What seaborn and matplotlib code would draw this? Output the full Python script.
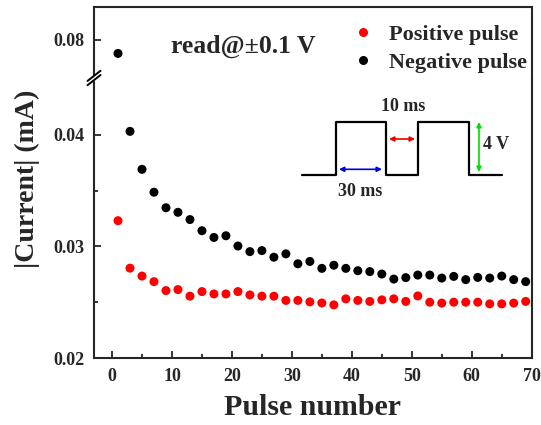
import numpy as np
import pandas as pd
import matplotlib
matplotlib.use('Agg')
import matplotlib.pyplot as plt
import seaborn as sns
from matplotlib.ticker import MultipleLocator, FormatStrFormatter

# pulse numbers (odd pulses 1..69)
pulse = list(range(1, 70, 2))

positive = [0.0323, 0.02805, 0.02734, 0.02684, 0.02604, 0.02613, 0.02554, 0.02595,
            0.02574, 0.02574, 0.02595, 0.02565, 0.02554, 0.02554, 0.02516, 0.02516,
            0.02503, 0.02493, 0.02476, 0.02530, 0.02516, 0.02507, 0.02521, 0.02530,
            0.02507, 0.02556, 0.02500, 0.02492, 0.02500, 0.02500, 0.02500, 0.02485,
            0.02485, 0.02492, 0.02507]

negative = [0.0788, 0.0403, 0.0369, 0.03485, 0.03346, 0.03305, 0.0324, 0.0314,
            0.0308, 0.03095, 0.03003, 0.02953, 0.02962, 0.02903, 0.02933, 0.02844,
            0.02865, 0.02803, 0.02831, 0.02803, 0.02782, 0.02774, 0.02752, 0.02707,
            0.02720, 0.02743, 0.02743, 0.02716, 0.02731, 0.02702, 0.02722, 0.02716,
            0.02734, 0.02702, 0.02684]

series = ['Positive pulse', 'Negative pulse']
colors = {'Positive pulse': '#ff0000', 'Negative pulse': '#000000'}

df = pd.DataFrame({
    'pulse': pulse + pulse,
    'current': positive + negative,
    'type': [series[0]] * len(pulse) + [series[1]] * len(pulse),
})

sns.set_style('ticks')
plt.rcParams['font.family'] = ['Liberation Serif', 'DejaVu Serif']
plt.rcParams['font.weight'] = 'bold'
plt.rcParams['axes.linewidth'] = 1.5

fig = plt.figure(figsize=(5.41, 4.25), dpi=100)
left, width = 0.1738, 0.8090
brk = 0.8165
ax_bot = fig.add_axes([left, 0.1576, width, brk - 0.1576])
ax_top = fig.add_axes([left, brk, width, 0.9842 - brk])

for ax in (ax_bot, ax_top):
    sns.scatterplot(data=df, x='pulse', y='current', hue='type', palette=colors,
                    s=42, linewidth=0, ax=ax, legend=(ax is ax_top))
    ax.set_xlim(-3, 70)
    ax.set_xlabel('')
    ax.set_ylabel('')
    ax.tick_params(axis='both', which='both', direction='in', width=1.3,
                   labelsize=13, right=False, top=False)
    ax.tick_params(which='major', length=5, pad=7)
    ax.tick_params(which='minor', length=3)
    ax.yaxis.set_major_formatter(FormatStrFormatter('%.2f'))
    for lab in ax.get_xticklabels() + ax.get_yticklabels():
        lab.set_fontweight('bold')

ax_bot.set_ylim(0.02, 0.04508)
ax_bot.yaxis.set_major_locator(MultipleLocator(0.01))
ax_bot.yaxis.set_minor_locator(MultipleLocator(0.005))
ax_bot.xaxis.set_major_locator(MultipleLocator(10))
ax_bot.xaxis.set_minor_locator(MultipleLocator(5))
ax_bot.spines['top'].set_visible(False)

ax_top.set_ylim(0.07662, 0.08294)
ax_top.set_yticks([0.08])
ax_top.yaxis.set_minor_locator(plt.NullLocator())
ax_top.set_xticks([])
ax_top.spines['bottom'].set_visible(False)

ax_bot.set_xlabel('Pulse number', fontsize=21.5, fontweight='bold', labelpad=7)
fig.text(0.05, 0.58, '|Current| (mA)', rotation=90, fontsize=20, fontweight='bold',
         ha='center', va='center')

# break mark on the left spine
fig.patches.append(plt.Rectangle((left - 0.006, brk - 0.004), 0.012, 0.008,
                                 transform=fig.transFigure, color='white', zorder=5))
for dy in (-0.005, 0.005):
    fig.add_artist(plt.Line2D([left - 0.012, left + 0.012],
                              [brk + dy - 0.012, brk + dy + 0.012],
                              transform=fig.transFigure, color='black', lw=1.4, zorder=6))

# legend
sns.move_legend(ax_top, 'upper left', bbox_to_anchor=(0.625, 0.969),
                bbox_transform=fig.transFigure, title=None, frameon=False,
                fontsize=16, handletextpad=0.6, labelspacing=0.33, borderpad=0,
                handlelength=1.2, markerscale=1.0)
for t in ax_top.get_legend().get_texts():
    t.set_fontweight('bold')

fig.text(0.3160, 0.892, 'read@\u00b10.1 V', fontsize=18.5, fontweight='bold',
         ha='left', va='center')

# pulse schematic (axes fraction of lower axes)
tr = ax_bot.transAxes
xs = [0.4745, 0.5529, 0.5529, 0.6664, 0.6664, 0.7409, 0.7409, 0.8574, 0.8574, 0.9315]
ys = [0.6536, 0.6536, 0.8418, 0.8418, 0.6536, 0.6536, 0.8418, 0.8418, 0.6536, 0.6536]
ax_bot.plot(xs, ys, color='black', lw=1.6, transform=tr)
arr = dict(arrowstyle='<|-|>', lw=1.2, mutation_scale=7, shrinkA=0, shrinkB=0)
ax_bot.annotate('', xy=(0.5597, 0.6739), xytext=(0.6580, 0.6739), xycoords=tr,
                arrowprops=dict(arr, color='#0000dd'))
ax_bot.annotate('', xy=(0.6740, 0.7821), xytext=(0.7334, 0.7821), xycoords=tr,
                arrowprops=dict(arr, color='#ee0000'))
ax_bot.annotate('', xy=(0.8796, 0.8429), xytext=(0.8796, 0.6643), xycoords=tr,
                arrowprops=dict(arr, color='#00dd00'))
ax_bot.text(0.7060, 0.8975, '10 ms', transform=tr, fontsize=13, fontweight='bold',
            ha='center', va='center')
ax_bot.text(0.8888, 0.7607, '4 V', transform=tr, fontsize=13, fontweight='bold',
            ha='left', va='center')
ax_bot.text(0.6077, 0.594, '30 ms', transform=tr, fontsize=13, fontweight='bold',
            ha='center', va='center')

fig.savefig('out.png', dpi=100)
